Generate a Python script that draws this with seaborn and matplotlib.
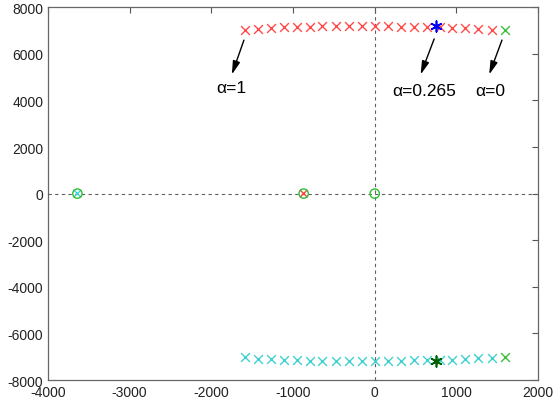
import matplotlib
matplotlib.use("Agg")
import matplotlib.pyplot as plt
import seaborn as sns
import numpy as np
import pandas as pd

# ---- data ----
top_x = [-1590, -1430, -1270, -1110, -950, -790, -640, -480, -320, -160,
         0, 160, 320, 480, 640, 800, 950, 1110, 1270, 1430]
top_y = [7020, 7080, 7110, 7140, 7150, 7170, 7180, 7190, 7190, 7190,
         7190, 7180, 7170, 7160, 7150, 7140, 7120, 7100, 7070, 7040]
bot_x = top_x
bot_y = [-v for v in top_y]
end_x = [1590, 1590]
end_y = [7020, -7020]
sel_x = [755, 755]
sel_y = [7200, -7200]
zero_x = [-3640, -870, 0]
zero_y = [0, 0, 0]
pole_real_x = [-3640, -870]
pole_real_y = [0, 0]
pole_real_colors = ["#40d0d0", "#ff4040"]
ann_text = ["\u03b1=1", "\u03b1=0.265", "\u03b1=0"]
ann_tip = [(-1760, 5000), (550, 5000), (1390, 5000)]
ann_start = [(-1590, 6700), (740, 6750), (1570, 6700)]
ann_text_pos = [(-1750, 4550), (600, 4420), (1410, 4420)]

xticks = [-4000, -3000, -2000, -1000, 0, 1000, 2000]
yticks = [-8000, -6000, -4000, -2000, 0, 2000, 4000, 6000, 8000]

sns.set_style("white")
plt.rcParams['font.family'] = ['Liberation Sans', 'DejaVu Sans']
plt.rcParams['axes.unicode_minus'] = False

fig = plt.figure(figsize=(5.53, 4.10), dpi=100)
ax = fig.add_axes([0.0868, 0.0707, 0.8862, 0.9093])

ax.axhline(0, color="#606060", ls=(0, (3, 3)), lw=0.8, zorder=1)
ax.axvline(0, color="#606060", ls=(0, (3, 3)), lw=0.8, zorder=1)

sns.scatterplot(x=top_x, y=top_y, marker="x", color="#ff4a4a", s=40, linewidth=1.0, ax=ax, zorder=3)
sns.scatterplot(x=bot_x, y=bot_y, marker="x", color="#3fd0d0", s=40, linewidth=1.0, ax=ax, zorder=3)
sns.scatterplot(x=end_x, y=end_y, marker="x", color="#3cbf3c", s=40, linewidth=1.0, ax=ax, zorder=3)
sns.scatterplot(x=[sel_x[0]], y=[sel_y[0]], marker=(6, 2, 0), color="#0000ff", s=60, linewidth=1.2, ax=ax, zorder=4)
sns.scatterplot(x=[sel_x[1]], y=[sel_y[1]], marker=(6, 2, 0), color="#006000", s=60, linewidth=1.2, ax=ax, zorder=4)
sns.scatterplot(x=pole_real_x, y=pole_real_y, marker="x", hue=pole_real_x,
                palette=pole_real_colors, s=30, linewidth=1.0, ax=ax, zorder=3, legend=False)
sns.scatterplot(x=zero_x, y=zero_y, marker="o", facecolor="none", edgecolor="#2fbf2f",
                s=45, linewidth=1.0, ax=ax, zorder=4)

for t, tip, st, tp in zip(ann_text, ann_tip, ann_start, ann_text_pos):
    ax.annotate("", xy=tip, xytext=st,
                arrowprops=dict(arrowstyle="-|>,head_length=0.8,head_width=0.22", color="black", lw=1.0))
    ax.text(tp[0], tp[1], t, ha="center", va="center", fontsize=12.5, color="black")

ax.set_xlim(-4000, 2000)
ax.set_ylim(-8000, 8000)
ax.set_xticks(xticks)
ax.set_yticks(yticks)
ax.tick_params(direction="in", length=4, width=0.8, colors="#555555", labelcolor="#222222",
               labelsize=10, top=True, right=True, labeltop=False, labelright=False)
for sp in ax.spines.values():
    sp.set_visible(True)
    sp.set_color("#666666")
    sp.set_linewidth(0.9)
ax.set_xlabel("")
ax.set_ylabel("")

fig.savefig("out.png", dpi=100)
